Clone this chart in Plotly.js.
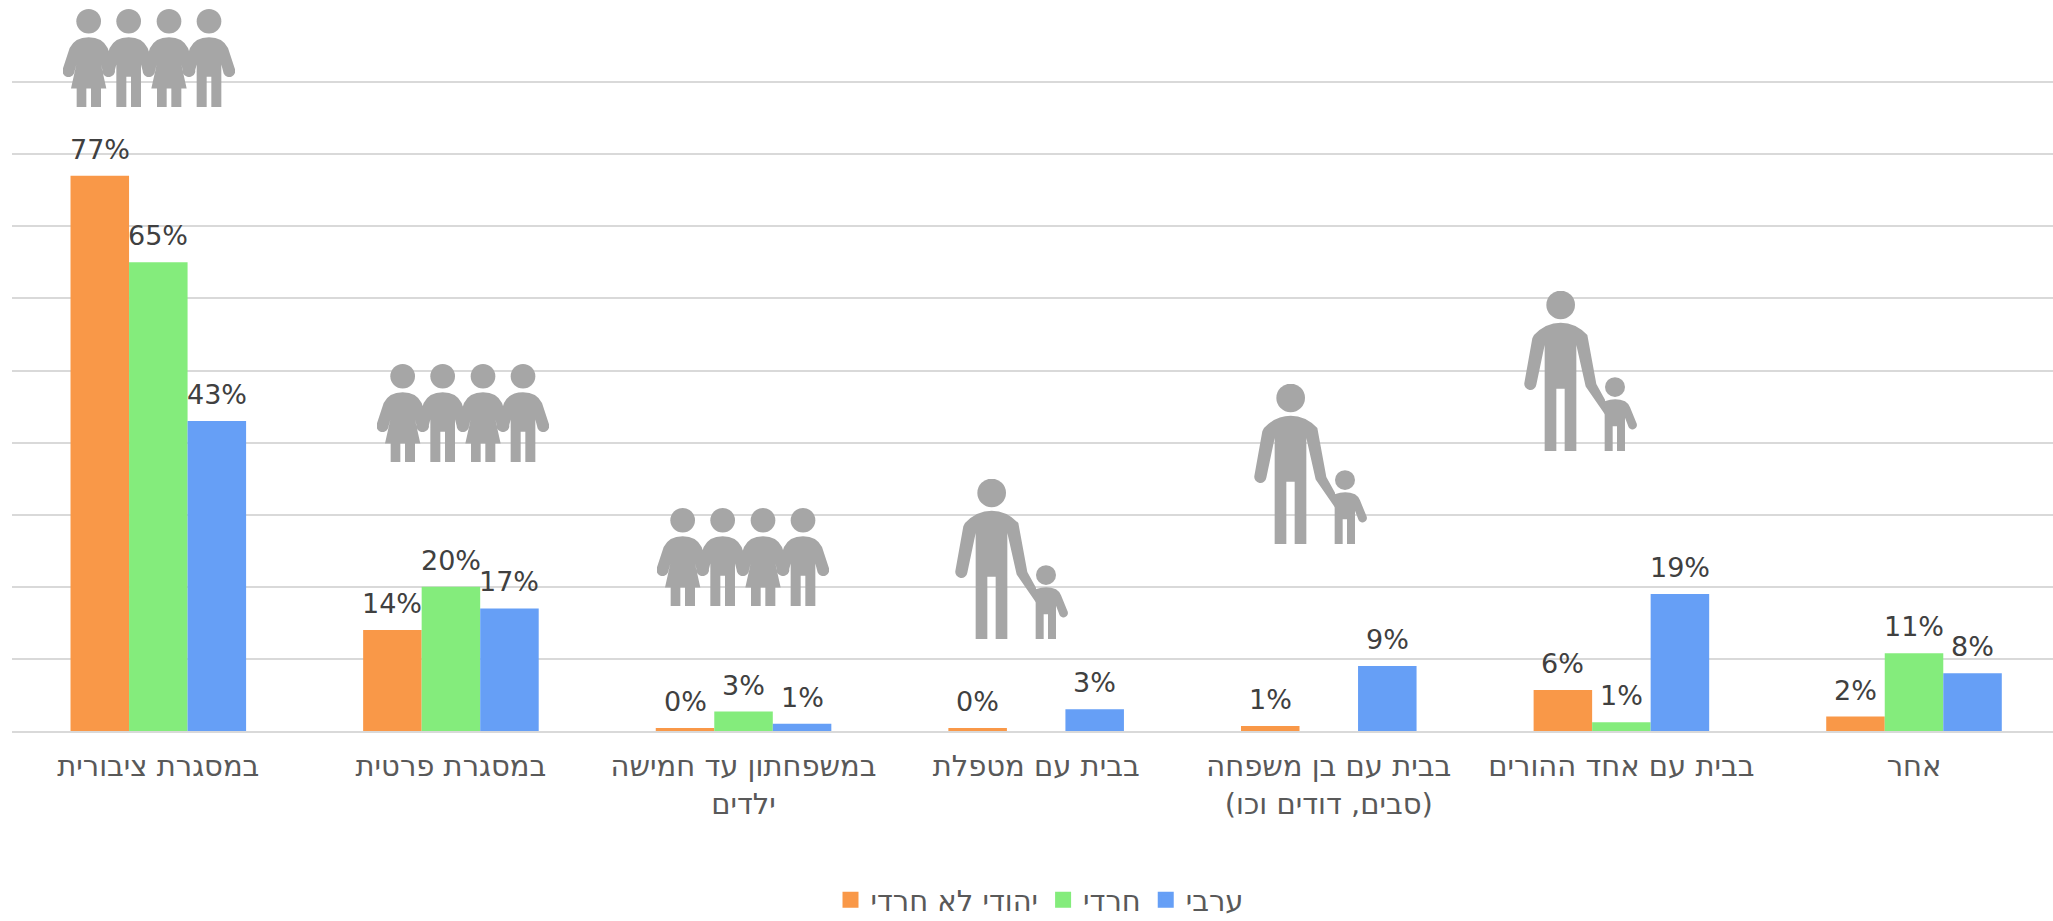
<!DOCTYPE html>
<html><head><meta charset="utf-8">
<script src="https://cdn.plot.ly/plotly-3.0.1.min.js"></script>
<style>html,body{margin:0;padding:0;background:#fff;overflow:hidden}</style></head>
<body><div id="chart" style="width:2053px;height:921px"></div>
<script>
const categories = ["במסגרת ציבורית","במסגרת פרטית","במשפחתון עד חמישה<br>ילדים","בבית עם מטפלת","בבית עם בן משפחה<br>(סבים, דודים וכו)","בבית עם אחד ההורים","אחר"];
const seriesNames = ["יהודי לא חרדי","חרדי","ערבי"];
const secularValues = [77,14,0.4,0.4,0.7,5.7,2];
const harediValues = [65,20,2.7,null,null,1.2,10.8];
const arabValues = [43,17,1,3,9,19,8];
const secularLabels = ["77%","14%","0%","0%","1%","6%","2%"];
const harediLabels = ["65%","20%","3%","","","1%","11%"];
const arabLabels = ["43%","17%","1%","3%","9%","19%","8%"];
const colors = ["#F99848","#84EC7C","#669FF6"];

const W=2053,H=921,L=12,R=2053,T=10,B=731;
const px=(x)=>(x-L)/(R-L), py=(y)=>(B-y)/(B-T);
const grey="#A6A6A6";
function arms(c){return `M${c-57} 145Q${c-42} 112 ${c} 112Q${c+42} 112 ${c+57} 145L${c+77} 206A17 17 0 0 1 ${c+44} 222L${c+37} 195`;}
function girl(c){return arms(c)+`L${c+53} 267H${c+37}V323H${c+7}V267H${c-7}V323H${c-36}V267H${c-53}L${c-37} 195L${c-44} 222A17 17 0 0 1 ${c-77} 206Z`;}
function boy(c){return arms(c)+`V323H${c+7}V232H${c-7}V323H${c-37}V195L${c-44} 222A17 17 0 0 1 ${c-77} 206Z`;}
function circ(c,y,r){return `<circle cx="${c}" cy="${y}" r="${r}" fill="${grey}"/>`;}
const familySvg=`<svg xmlns="http://www.w3.org/2000/svg" viewBox="188 27 516 296" preserveAspectRatio="none"><path fill="${grey}" d="${girl(265)}${boy(385)}${girl(506)}${boy(626)}"/>${circ(265,64,37)}${circ(385,64,37)}${circ(506,64,37)}${circ(626,64,37)}</svg>`;
const parentSvg=`<svg xmlns="http://www.w3.org/2000/svg" viewBox="165 57 339 483" preserveAspectRatio="none">${circ(275,99,43)}${circ(438,347,30)}<path fill="${grey}" d="M195 190Q230 153 275 153Q320 153 355 190L382 338L408 385V430L350 345L322 220V540H287V352H262V540H227V220L202 340A18 18 0 0 1 166 335L190 200Z"/><path fill="${grey}" d="M407 390Q440 378 468 390Q478 396 483 408L502 455A13 13 0 0 1 479 468L468 440V540H444V465H431V540H407Z"/></svg>`;
const uri=s=>"data:image/svg+xml;charset=utf-8,"+encodeURIComponent(s);
const familyBoxes=[[63,9,172,98],[377,364,172,98],[657,508,172,98]];
const parentBoxes=[[955,479,113,160],[1254,384,113,160],[1524,291,113,160]];
const images=[];
const addImg=(src,b)=>images.push({source:uri(src),xref:"paper",yref:"paper",x:px(b[0]),y:py(b[1]),sizex:b[2]/(R-L),sizey:b[3]/(B-T),xanchor:"left",yanchor:"top",sizing:"stretch",layer:"above"});
familyBoxes.forEach(b=>addImg(familySvg,b));
parentBoxes.forEach(b=>addImg(parentSvg,b));

const xs=categories.map((_,i)=>i);
const allVals=[secularValues,harediValues,arabValues];
const allLabels=[secularLabels,harediLabels,arabLabels];
const traces=allVals.map((v,k)=>({type:"bar",name:seriesNames[k],x:xs,y:v,offsetgroup:"g"+k,marker:{color:colors[k]},showlegend:false}));
allVals.forEach((v,k)=>traces.push({type:"bar",name:seriesNames[k],x:[0],y:[null],offsetgroup:"g"+k,marker:{color:colors[k],line:{color:colors[k],width:4}},showlegend:true}));
const annotations=[];
allVals.forEach((v,k)=>v.forEach((val,i)=>{
  if(allLabels[k][i]==="")return;
  annotations.push({x:i+(k-1)*0.2,y:val,xref:"x",yref:"y",text:allLabels[k][i],showarrow:false,yanchor:"bottom",yshift:9,
    font:{family:"DejaVu Sans",size:27,color:"#404040"}});
}));
const layout={
  width:W,height:H,paper_bgcolor:"#fff",plot_bgcolor:"#fff",
  margin:{l:L,r:W-R,t:T,b:H-B,pad:0,autoexpand:false},
  barmode:"group",bargap:0.4,bargroupgap:0,
  font:{family:"DejaVu Sans",color:"#595959",size:29},
  xaxis:{type:"linear",range:[-0.5,6.475],tickmode:"array",tickvals:xs,ticktext:categories,ticks:"",ticklabelstandoff:8,showgrid:false,zeroline:false,showline:true,linecolor:"#D9D9D9",linewidth:2,tickfont:{family:"DejaVu Sans",size:29,color:"#595959"},automargin:false,tickangle:0},
  yaxis:{range:[0,100],tickmode:"linear",dtick:10,showticklabels:false,ticks:"",showgrid:true,gridcolor:"#D9D9D9",gridwidth:2,zeroline:false,showline:false,automargin:false},
  showlegend:true,
  legend:{orientation:"h",x:px(1040),xanchor:"center",y:py(900),yanchor:"middle",font:{family:"DejaVu Sans",size:29,color:"#595959"},traceorder:"normal",bgcolor:"rgba(0,0,0,0)"},
  images,annotations
};
Plotly.newPlot("chart",traces,layout,{displayModeBar:false,staticPlot:true});
</script></body></html>
